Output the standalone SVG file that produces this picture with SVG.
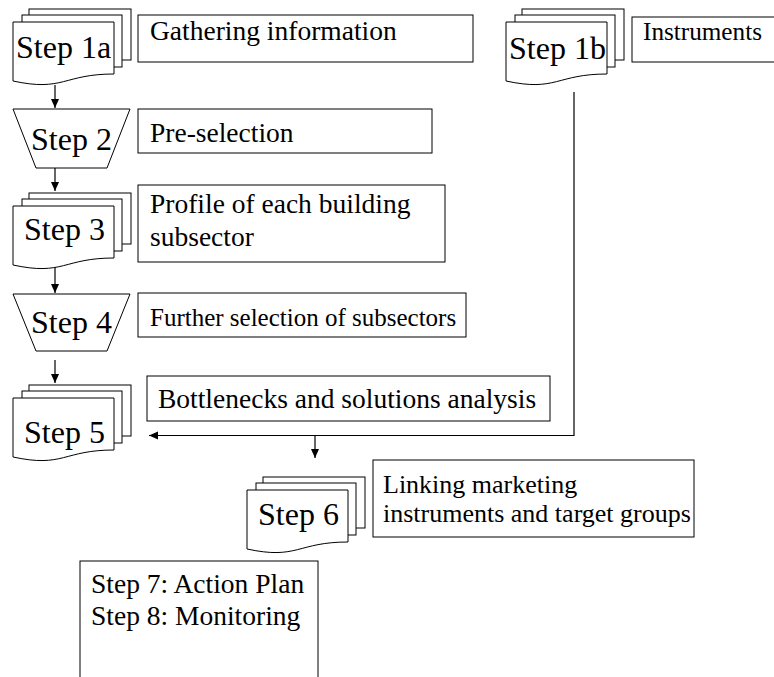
<svg xmlns="http://www.w3.org/2000/svg" width="774" height="677" viewBox="0 0 774 677">
<style>
.s{fill:#fff;stroke:#000;stroke-width:1}
.st{font-family:"Liberation Serif","Times New Roman",serif;font-size:32px;fill:#000}
.t{font-family:"Liberation Serif","Times New Roman",serif;font-size:27.5px;fill:#000}
.c{fill:none;stroke:#000;stroke-width:1.2}
</style>
<defs>
<g id="md">
<rect class="s" x="16" y="-13" width="102" height="51"/>
<rect class="s" x="9" y="-7" width="100" height="52"/>
<path class="s" d="M0,0 H101 V52 C50.5,52 50.5,70 0,59 Z"/>
</g>
<marker id="ah" markerWidth="10" markerHeight="10" refX="9" refY="4" orient="auto" markerUnits="userSpaceOnUse">
<path d="M0,0 L9,4 L0,8 Z" fill="#000"/>
</marker>
</defs>
<rect width="774" height="677" fill="#fff"/>
<g id="connectors">
<line class="c" x1="55" y1="85" x2="55" y2="108" marker-end="url(#ah)"/>
<line class="c" x1="55" y1="168" x2="55" y2="191" marker-end="url(#ah)"/>
<line class="c" x1="55" y1="266" x2="55" y2="293" marker-end="url(#ah)"/>
<line class="c" x1="55" y1="360" x2="55" y2="383" marker-end="url(#ah)"/>
<polyline class="c" points="574,92 574,435.5 149,435.5" marker-end="url(#ah)"/>
<line class="c" x1="315" y1="435.5" x2="315" y2="458" marker-end="url(#ah)"/>
</g>
<g id="step1a">
<use href="#md" x="13" y="22"/>
<text class="st" x="16" y="58">Step 1a</text>
</g>
<g id="gathering">
<rect class="s" x="138" y="15" width="335" height="47"/>
<text class="t" x="150" y="40">Gathering information</text>
</g>
<g id="step1b">
<use href="#md" x="506" y="22"/>
<text class="st" x="509" y="59">Step 1b</text>
</g>
<g id="instruments">
<rect class="s" x="632" y="17" width="150" height="45"/>
<text class="t" x="643" y="40" style="font-size:25.2px">Instruments</text>
</g>
<g id="step2">
<path class="s" d="M13,109 H130 L107,168 H36 Z"/>
<text class="st" x="31" y="150">Step 2</text>
</g>
<g id="preselection">
<rect class="s" x="138" y="109" width="294" height="44"/>
<text class="t" x="150" y="142">Pre-selection</text>
</g>
<g id="step3">
<use href="#md" x="13" y="206"/>
<text class="st" x="24" y="240">Step 3</text>
</g>
<g id="profile">
<rect class="s" x="138" y="185" width="307" height="77"/>
<text class="t" x="150" y="213">Profile of each building</text>
<text class="t" x="150" y="246">subsector</text>
</g>
<g id="step4">
<path class="s" d="M13,294 H130 L107,351 H36 Z"/>
<text class="st" x="31" y="333">Step 4</text>
</g>
<g id="further">
<rect class="s" x="138" y="293" width="328" height="44"/>
<text class="t" x="150" y="326" style="font-size:25px">Further selection of subsectors</text>
</g>
<g id="step5">
<use href="#md" x="13" y="398"/>
<text class="st" x="24" y="443">Step 5</text>
</g>
<g id="bottlenecks">
<rect class="s" x="147" y="376" width="403" height="45"/>
<text class="t" x="158" y="408">Bottlenecks and solutions analysis</text>
</g>
<g id="step6">
<use href="#md" x="247" y="490"/>
<text class="st" x="258" y="525">Step 6</text>
</g>
<g id="linking">
<rect class="s" x="373" y="460" width="321" height="77"/>
<text class="t" x="383" y="493" style="font-size:26px">Linking marketing</text>
<text class="t" x="383" y="522" style="font-size:26px">instruments and target groups</text>
</g>
<g id="step78">
<rect class="s" x="80" y="561" width="238" height="130"/>
<text class="t" x="91" y="593">Step 7: Action Plan</text>
<text class="t" x="91" y="625">Step 8: Monitoring</text>
</g>
</svg>
